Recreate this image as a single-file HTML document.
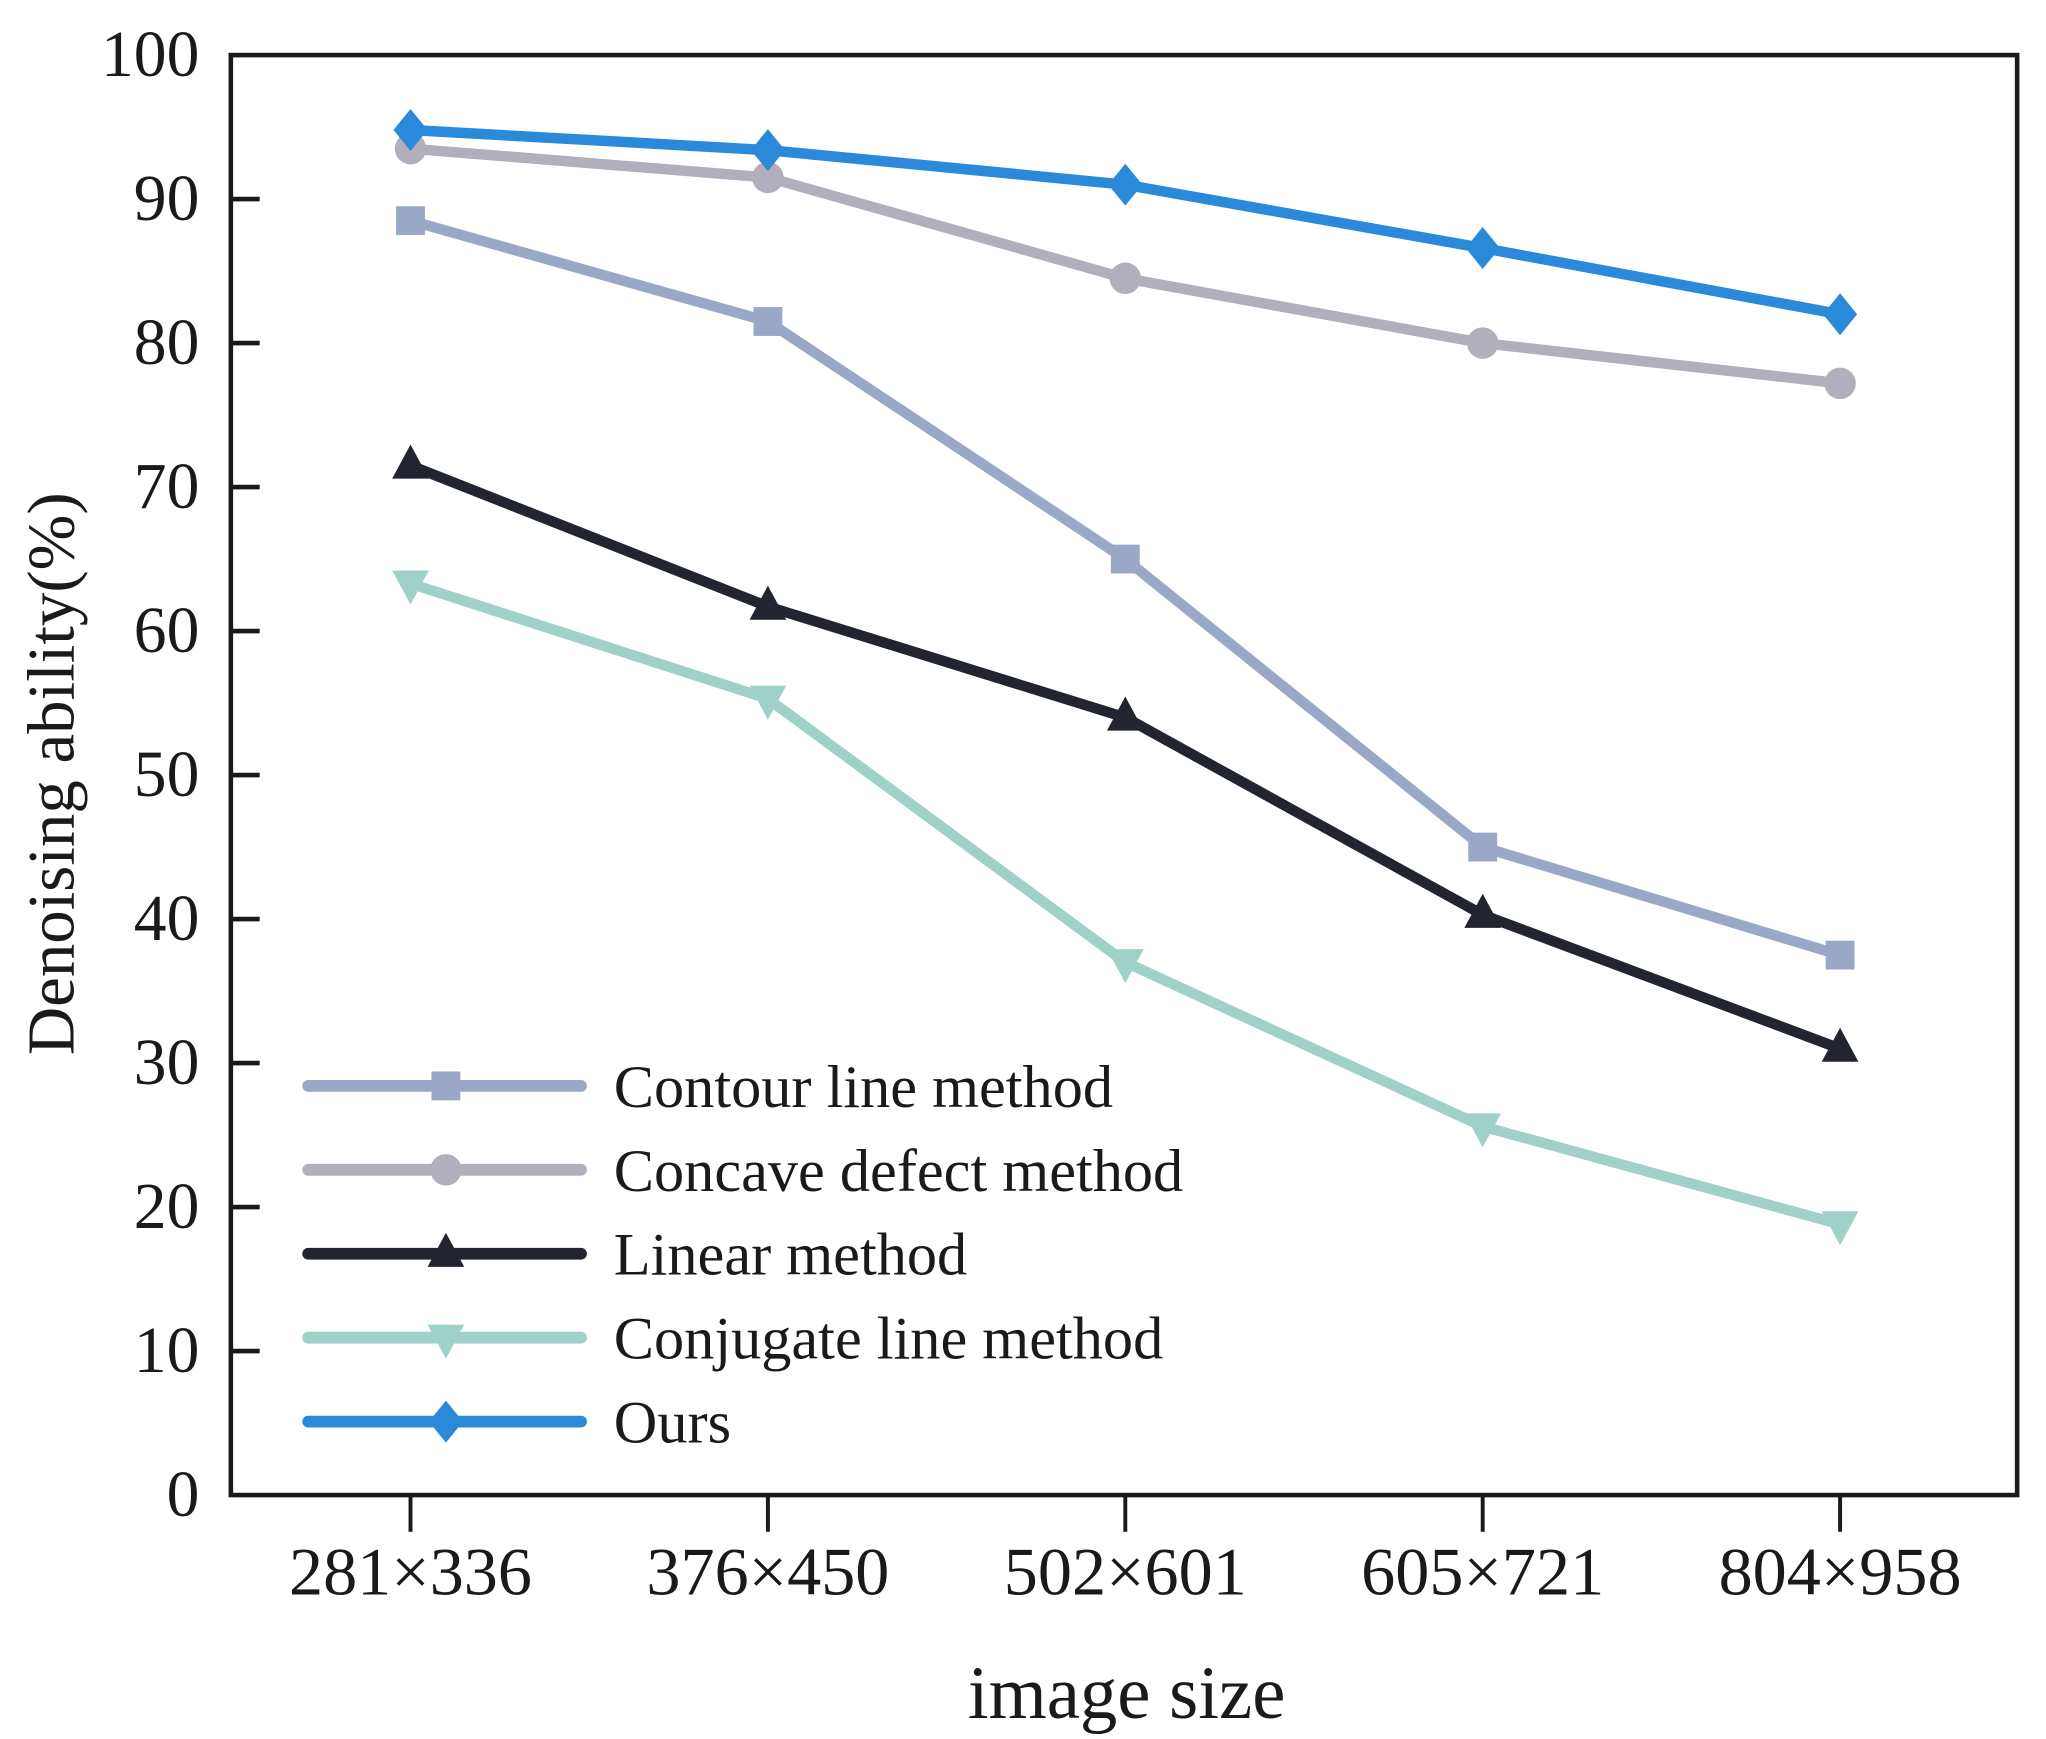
<!DOCTYPE html>
<html><head><meta charset="utf-8"><style>
html,body{margin:0;padding:0;background:#fff;overflow:hidden;}
svg{display:block;}
text{font-family:"Liberation Serif",serif;fill:#1a1a1a;}
</style></head><body>
<svg id="chart" width="2046" height="1739" viewBox="0 0 1560 1326" preserveAspectRatio="none" xmlns="http://www.w3.org/2000/svg">
<g id="axes"></g>
<g id="series"></g>
<g id="legend"></g>
</svg>
<script>
const categories = ["281×336","376×450","502×601","605×721","804×958"];
const yTicks = [0,10,20,30,40,50,60,70,80,90,100];
const seriesNames = ["Contour line method","Concave defect method","Linear method","Conjugate line method","Ours"];
const contourValues = [88.5,81.5,65,45,37.5];
const concaveValues = [93.5,91.5,84.5,80,77.2];
const linearValues = [71.5,61.7,54,40.3,31];
const conjugateValues = [63.3,55.3,37,25.6,18.8];
const oursValues = [94.8,93.4,91,86.6,82];

const NS="http://www.w3.org/2000/svg";
const L=176,R=1538,T=42,B=1140;
const x0=313,dx=272.5;
function xs(i){return x0+i*dx;}
function ys(v){return B-(v/100)*(B-T);}
function mk(tag,attrs,parent){const e=document.createElementNS(NS,tag);for(const k in attrs)e.setAttribute(k,attrs[k]);parent.appendChild(e);return e;}
const axes=document.getElementById('axes'),ser=document.getElementById('series'),leg=document.getElementById('legend');

let box=mk('rect',{x:L,y:T,width:R-L,height:B-T,fill:'none',stroke:'#1a1a1a','stroke-width':3.5},axes);


yTicks.forEach(v=>{
  const y=ys(v);
  if(v>0&&v<100){let t=mk('line',{x1:L,x2:L+22,y1:y,y2:y,stroke:'#1a1a1a','stroke-width':3.5},axes);
  
  }
  let lb=mk('text',{x:152,y:y+16,'text-anchor':'end','font-size':50},axes);
  lb.textContent=v;
  
  
});
categories.forEach((c,i)=>{
  const x=xs(i);
  let t=mk('line',{x1:x,x2:x,y1:B,y2:B+28,stroke:'#1a1a1a','stroke-width':3},axes);
  
  
  let lb=mk('text',{x:x,y:1216,'text-anchor':'middle','font-size':52},axes);
  lb.textContent=c;
  
  
});
let yt=mk('text',{x:0,y:0,'text-anchor':'middle','font-size':51,transform:'translate(56,590) rotate(-90)'},axes);
yt.textContent='Denoising ability(%)';


let xt=mk('text',{x:859,y:1310,'text-anchor':'middle','font-size':57},axes);
xt.textContent='image size';



function marker(type,x,y,color,parent){
  let e;
  if(type==='square')e=mk('rect',{x:x-11,y:y-11,width:22,height:22,fill:color},parent);
  else if(type==='circle')e=mk('circle',{cx:x,cy:y,r:12,fill:color},parent);
  else if(type==='tri')e=mk('polygon',{points:`${x},${y-16} ${x-14},${y+10} ${x+14},${y+10}`,fill:color},parent);
  else if(type==='vtri')e=mk('polygon',{points:`${x},${y+16} ${x-14},${y-10} ${x+14},${y-10}`,fill:color},parent);
  else e=mk('polygon',{points:`${x},${y-16} ${x+13},${y} ${x},${y+16} ${x-13},${y}`,fill:color},parent);
  return e;
}
const allValues=[contourValues,concaveValues,linearValues,conjugateValues,oursValues];
const colors=['#98a8c6','#b1afbc','#22252f','#9fd1c9','#2a89d8'];
const markers=['square','circle','tri','vtri','diamond'];
allValues.forEach((vals,s)=>{
  const g=mk('g',{},ser);
  
  
  let pl=mk('polyline',{points:vals.map((v,i)=>xs(i)+','+ys(v)).join(' '),fill:'none',stroke:colors[s],'stroke-width':8,'stroke-linejoin':'round'},g);
  
  
  vals.forEach((v,i)=>{
    const m=marker(markers[s],xs(i),ys(v),colors[s],g);
    
    
  });
  const ly=828+s*64;
  const le=mk('g',{},leg);
  
  
  mk('line',{x1:235,x2:443,y1:ly,y2:ly,stroke:colors[s],'stroke-width':9,'stroke-linecap':'round'},le);
  marker(markers[s],340,ly,colors[s],le);
  const lt=mk('text',{x:468,y:ly+16,'font-size':46},le);
  lt.textContent=seriesNames[s];
  
  
});
</script>
</body></html>
